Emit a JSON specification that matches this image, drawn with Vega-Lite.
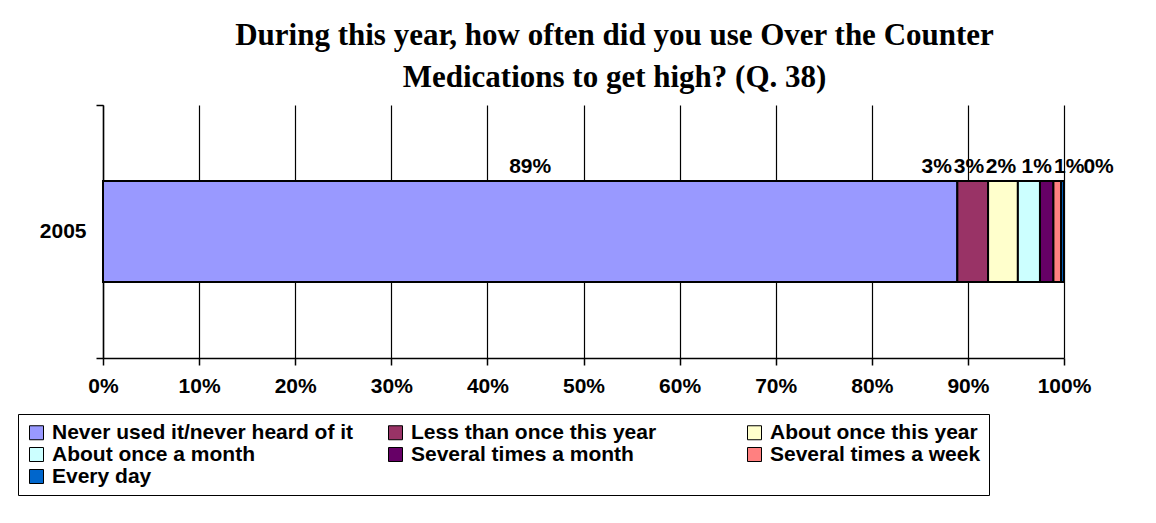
{
  "$schema": "https://vega.github.io/schema/vega-lite/v6.json",
  "width": 961,
  "height": 253,
  "autosize": "none",
  "padding": {"left": 103, "top": 105, "right": 92, "bottom": 165},
  "background": "white",
  "title": {
    "text": ["During this year, how often did you use Over the Counter", "Medications to get high? (Q. 38)"],
    "font": "Liberation Serif",
    "fontSize": 31,
    "fontWeight": "bold",
    "lineHeight": 42,
    "color": "black",
    "anchor": "middle",
    "frame": "group",
    "dx": 31,
    "offset": 0
  },
  "data": {
    "values": [
      {"year": "2005", "category": "Never used it/never heard of it", "order": 1, "pct": 88.9},
      {"year": "2005", "category": "Less than once this year", "order": 2, "pct": 3.2},
      {"year": "2005", "category": "About once this year", "order": 3, "pct": 3.1},
      {"year": "2005", "category": "About once a month", "order": 4, "pct": 2.3},
      {"year": "2005", "category": "Several times a month", "order": 5, "pct": 1.4},
      {"year": "2005", "category": "Several times a week", "order": 6, "pct": 0.8},
      {"year": "2005", "category": "Every day", "order": 7, "pct": 0.3}
    ]
  },
  "transform": [
    {"stack": "pct", "groupby": ["year"], "sort": [{"field": "order", "order": "ascending"}], "offset": "normalize", "as": ["x0", "x1"]},
    {"calculate": "(datum.x0 + datum.x1) / 2", "as": "xmid"},
    {"calculate": "datum.x1 - datum.x0", "as": "share"}
  ],
  "encoding": {
    "y": {
      "field": "year",
      "type": "nominal",
      "scale": {"paddingInner": 0, "paddingOuter": 0},
      "axis": {
        "title": null,
        "grid": false,
        "domainColor": "black",
        "domainWidth": 1.5,
        "tickColor": "black",
        "tickWidth": 1.5,
        "tickSize": 7,
        "tickBand": "extent",
        "labelFont": "Liberation Sans",
        "labelFontSize": 21,
        "labelFontWeight": "bold",
        "labelColor": "black",
        "labelPadding": 10
      }
    }
  },
  "layer": [
    {
      "mark": {"type": "bar", "stroke": "black", "strokeWidth": 2, "height": {"band": 0.4}},
      "encoding": {
        "x": {
          "field": "x0",
          "type": "quantitative",
          "scale": {"domain": [0, 1], "nice": false, "zero": true},
          "axis": {
            "title": null,
            "values": [0, 0.1, 0.2, 0.3, 0.4, 0.5, 0.6, 0.7, 0.8, 0.9, 1],
            "format": ".0%",
            "grid": true,
            "gridColor": "black",
            "gridWidth": 1.2,
            "gridOpacity": 1,
            "domainColor": "black",
            "domainWidth": 1.5,
            "tickColor": "black",
            "tickWidth": 1.5,
            "tickSize": 7,
            "labelFont": "Liberation Sans",
            "labelFontSize": 21,
            "labelFontWeight": "bold",
            "labelColor": "black",
            "labelPadding": 10,
            "labelFlush": false
          }
        },
        "x2": {"field": "x1"},
        "fill": {
          "field": "category",
          "type": "nominal",
          "scale": {
            "domain": ["Never used it/never heard of it", "Less than once this year", "About once this year", "About once a month", "Several times a month", "Several times a week", "Every day"],
            "range": ["#9999FF", "#993366", "#FFFFCC", "#CCFFFF", "#660066", "#FF8080", "#0066CC"]
          },
          "legend": {
            "title": null,
            "orient": "none",
            "legendX": -85,
            "legendY": 309,
            "direction": "horizontal",
            "columns": 3,
            "gridAlign": "all",
            "columnPadding": 31,
            "rowPadding": 0,
            "padding": 8,
            "strokeColor": "black",
            "symbolType": "square",
            "symbolSize": 196,
            "symbolStrokeColor": "black",
            "symbolStrokeWidth": 1,
            "symbolOpacity": 1,
            "labelFont": "Liberation Sans",
            "labelFontSize": 21,
            "labelFontWeight": "bold",
            "labelColor": "black",
            "labelOffset": 5,
            "labelLimit": 600
          }
        },
        "order": {"field": "order", "type": "quantitative"}
      }
    },
    {
      "mark": {
        "type": "text",
        "font": "Liberation Sans",
        "fontSize": 21,
        "fontWeight": "bold",
        "color": "black",
        "baseline": "middle",
        "align": "center",
        "dy": -65,
        "dx": {"expr": "datum.order == 2 ? -36 : datum.order == 3 ? -34 : datum.order == 4 ? -28 : datum.order == 5 ? -10 : datum.order == 6 ? 12 : datum.order == 7 ? 36 : 0"}
      },
      "encoding": {
        "x": {"field": "xmid", "type": "quantitative"},
        "text": {"field": "share", "type": "quantitative", "format": ".0%"}
      }
    }
  ],
  "config": {
    "view": {"stroke": null}
  }
}
